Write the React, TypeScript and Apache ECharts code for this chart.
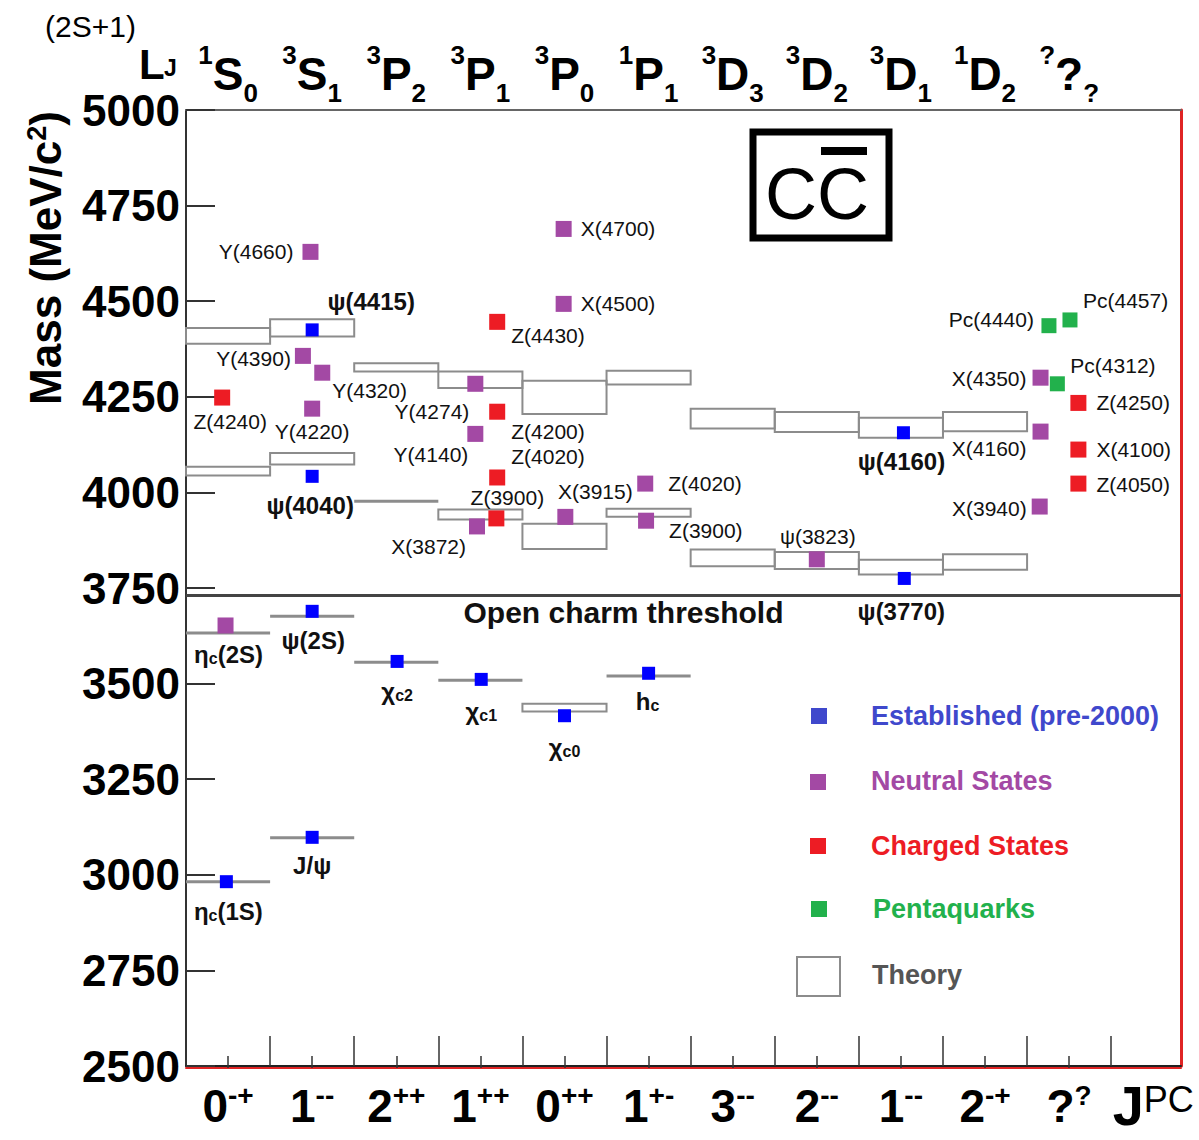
import React, { useEffect, useRef } from "react";
import * as echarts from "echarts";

// ---------- category / tick labels ----------
const spectroscopicSup = ["1", "3", "3", "3", "3", "1", "3", "3", "3", "1", "?"];
const spectroscopicL = ["S", "S", "P", "P", "P", "P", "D", "D", "D", "D", "?"];
const spectroscopicSub = ["0", "1", "2", "1", "0", "1", "3", "2", "1", "2", "?"];
const jpcJ = ["0", "1", "2", "1", "0", "1", "3", "2", "1", "2", "?"];
const jpcPC = ["-+", "--", "++", "++", "++", "+-", "--", "--", "--", "-+", "?"];
const categoryIndex = [0, 1, 2, 3, 4, 5, 6, 7, 8, 9, 10];
const categoryBoundaries = [0.5, 1.5, 2.5, 3.5, 4.5, 5.5, 6.5, 7.5, 8.5, 9.5, 10.5];
const massMin = 2500;
const massMax = 5000;
const massStep = 250;
const openCharmThreshold = 3730;

// ---------- theory predictions (boxes) ----------
const theoryCategory = [0, 0, 0, 0, 1, 1, 1, 1, 2, 2, 2, 3, 3, 3, 4, 4, 4, 5, 5, 5, 6, 6, 7, 7, 8, 8, 9, 9];
const theoryLow = [4389, 4044, 3631, 2981, 4408, 4073, 3675, 3096, 4316, 3973, 3555, 4273, 3929, 3508, 4205, 3852, 3427, 4282, 3936, 3519, 4167, 3807, 4158, 3800, 4143, 3785, 4160, 3798];
const theoryHigh = [4430, 4067, 3633, 2983, 4453, 4103, 3677, 3098, 4338, 3981, 3557, 4316, 3955, 3510, 4292, 3918, 3447, 4318, 3957, 3521, 4219, 3851, 4210, 3844, 4195, 3824, 4210, 3838];

// ---------- established states ----------
const establishedNames = ["η{s|c}(1S)", "J/ψ", "ψ(2S)", "χ{s|c2}", "χ{s|c1}", "χ{s|c0}", "h{s|c}", "ψ(3770)", "ψ(4040)", "ψ(4160)", "ψ(4415)"];
const establishedX = [-0.02, 1.0, 1.0, 2.01, 3.01, 4.0, 5.0, 8.04, 1.0, 8.03, 1.0];
const establishedMass = [2982, 3098, 3689, 3558, 3511, 3416, 3527, 3775, 4042, 4156, 4425];

// ---------- neutral states ----------
const neutralNames = ["η{s|c}(2S)", "Y(4660)", "Y(4390)", "Y(4320)", "Y(4220)", "Y(4274)", "Y(4140)", "X(3872)", "X(4700)", "X(4500)", "X(3915)", "Z(4020)", "Z(3900)", "ψ(3823)", "X(4350)", "X(4160)", "X(3940)"];
const neutralX = [-0.03, 0.98, 0.89, 1.12, 1.0, 2.94, 2.94, 2.96, 3.99, 3.99, 4.01, 4.96, 4.97, 7.0, 9.66, 9.66, 9.65];
const neutralMass = [3652, 4629, 4357, 4313, 4219, 4284, 4153, 3911, 4689, 4493, 3936, 4023, 3926, 3825, 4300, 4159, 3963];

// ---------- charged states ----------
const chargedNames = ["Z(4240)", "Z(4430)", "Z(4200)", "Z(4020)", "Z(3900)", "Z(4250)", "X(4100)", "Z(4050)"];
const chargedX = [-0.07, 3.2, 3.2, 3.2, 3.19, 10.11, 10.11, 10.11];
const chargedMass = [4248, 4446, 4211, 4039, 3932, 4234, 4112, 4023];

// ---------- pentaquarks ----------
const pentaNames = ["Pc(4440)", "Pc(4457)", "Pc(4312)"];
const pentaX = [9.76, 10.01, 9.86];
const pentaMass = [4436, 4451, 4284];

// label placement (align, dx, dy) – styling only
const establishedPlace: [string, number, number][] = [
  ["center", 2, 30], ["center", 0, 28], ["center", 1, 29], ["center", 0, 30], ["center", 0, 32], ["center", 0, 32],
  ["center", -1, 28], ["center", -3, 33], ["center", -2, 29], ["center", -2, 29], ["center", 59, -28],
];
const neutralPlace: [string, number, number][] = [
  ["center", 3, 29], ["right", -17, 0], ["right", -12, 3], ["left", 10, 18], ["center", 0, 23], ["right", -6, 28],
  ["right", -7, 21], ["right", -11, 20], ["left", 17, 0], ["left", 17, 0], ["center", 30, -25], ["left", 23, 0],
  ["left", 23, 10], ["center", 1, -23], ["right", -14, 1], ["right", -14, 17], ["right", -13, 2],
];
const chargedPlace: [string, number, number][] = [
  ["center", 8, 24], ["left", 14, 14], ["left", 14, 20], ["left", 14, -21], ["center", 11, -21],
  ["left", 18, 0], ["left", 18, 0], ["left", 18, 1],
];
const pentaPlace: [string, number, number][] = [["right", -15, -6], ["left", 13, -19], ["left", 13, -18]];

const FONT = "'Liberation Sans', Arial, Helvetica, sans-serif";
const NARROW = "'Liberation Sans Narrow', 'Liberation Sans', Arial, sans-serif";

function points(names: string[], xs: number[], ms: number[], place: [string, number, number][], boldAll: boolean, boldIdx: number[] = []) {
  return names.map((n, i) => {
    const bold = boldAll || boldIdx.indexOf(i) >= 0;
    return {
      value: [xs[i], ms[i]],
      name: n,
      label: {
        show: true,
        position: "inside",
        align: place[i][0],
        verticalAlign: "middle",
        offset: [place[i][1], place[i][2]],
        formatter: n,
        fontFamily: FONT,
        fontSize: bold ? 24 : 21,
        fontWeight: bold ? "bold" : "normal",
        color: "#111",
        rich: {
          s: { fontSize: bold ? 16 : 14, fontWeight: "bold", fontFamily: FONT, color: "#111", verticalAlign: "bottom" },
        },
      },
    };
  });
}

export default function App() {
  const ref = useRef<HTMLDivElement>(null);
  useEffect(() => {
    document.body.style.margin = "0";
    if (!ref.current) return;
    const chart = echarts.init(ref.current, undefined, { renderer: "svg" });
    const xMin = -0.5;
    const xMax = 11.33;

    const theoryData = theoryCategory.map((c, i) => [c, theoryLow[i], theoryHigh[i]]);

    const option: any = {
      animation: false,
      backgroundColor: "#fff",
      grid: { left: 186, right: 18, top: 110, bottom: 74, containLabel: false },
      xAxis: [
        {
          type: "value",
          position: "bottom",
          min: xMin,
          max: xMax,
          splitLine: { show: false },
          axisLine: { show: true, onZero: false, lineStyle: { color: "#222", width: 2 } },
          axisTick: { show: true, inside: true, length: 30, customValues: categoryBoundaries, lineStyle: { color: "#333", width: 1.5 } },
          axisLabel: {
            show: true,
            margin: 15,
            customValues: [...categoryIndex, 11],
            formatter: (v: number) => {
              const i = Math.round(v);
              if (i === 11) return "{J|J}{PC|PC}";
              return `{m|${jpcJ[i]}}{p|${jpcPC[i]}}`;
            },
            rich: {
              m: { fontFamily: NARROW, fontWeight: "bold", fontSize: 46, lineHeight: 50, color: "#000", verticalAlign: "middle" },
              p: { fontFamily: NARROW, fontWeight: "bold", fontSize: 28, lineHeight: 28, color: "#000", verticalAlign: "top" },
              J: { fontFamily: FONT, fontWeight: "bold", fontSize: 56, lineHeight: 52, color: "#000", verticalAlign: "bottom" },
              PC: { fontFamily: FONT, fontWeight: "normal", fontSize: 36, lineHeight: 36, color: "#000", verticalAlign: "top" },
            },
          },
        },
        {
          type: "value",
          position: "bottom",
          offset: 2,
          min: xMin,
          max: xMax,
          splitLine: { show: false },
          axisLine: { show: true, onZero: false, lineStyle: { color: "#e02424", width: 2 } },
          axisTick: { show: true, inside: true, length: 12, customValues: categoryIndex, lineStyle: { color: "#333", width: 1.5 } },
          axisLabel: { show: false },
        },
        {
          type: "value",
          position: "top",
          min: xMin,
          max: xMax,
          splitLine: { show: false },
          axisLine: { show: true, onZero: false, lineStyle: { color: "#666", width: 2 } },
          axisTick: { show: false },
          axisLabel: {
            show: true,
            margin: 4,
            customValues: categoryIndex,
            formatter: (v: number) => {
              const i = Math.round(v);
              return `{p|${spectroscopicSup[i]}}{m|${spectroscopicL[i]}}{q|${spectroscopicSub[i]}}`;
            },
            rich: {
              m: { fontFamily: NARROW, fontWeight: "bold", fontSize: 46, lineHeight: 50, color: "#000", verticalAlign: "middle" },
              p: { fontFamily: NARROW, fontWeight: "bold", fontSize: 26, lineHeight: 26, color: "#000", verticalAlign: "top" },
              q: { fontFamily: NARROW, fontWeight: "bold", fontSize: 26, lineHeight: 64, color: "#000", verticalAlign: "bottom" },
            },
          },
        },
      ],
      yAxis: [
        {
          type: "value",
          min: massMin,
          max: massMax,
          interval: massStep,
          splitLine: { show: false },
          axisLine: { show: true, onZero: false, lineStyle: { color: "#333", width: 2 } },
          axisTick: { show: true, inside: true, length: 29, lineStyle: { color: "#333", width: 2 } },
          axisLabel: { margin: 6, fontFamily: FONT, fontWeight: "bold", fontSize: 44, color: "#000", formatter: (v: number) => String(v) },
        },
        {
          type: "value",
          position: "right",
          min: massMin,
          max: massMax,
          splitLine: { show: false },
          axisLine: { show: true, onZero: false, lineStyle: { color: "#e02424", width: 3 } },
          axisTick: { show: false },
          axisLabel: { show: false },
        },
      ],
      series: [
        {
          type: "custom",
          name: "Theory",
          xAxisIndex: 0,
          yAxisIndex: 0,
          z: 1,
          data: theoryData,
          encode: { x: 0, y: [1, 2] },
          renderItem: (params: any, api: any) => {
            const c = api.value(0);
            const lo = api.value(1);
            const hi = api.value(2);
            const p1 = api.coord([c - 0.5, hi]);
            const p2 = api.coord([c + 0.5, lo]);
            const h = p2[1] - p1[1];
            if (h < 5) {
              const ym = (p1[1] + p2[1]) / 2;
              return { type: "line", shape: { x1: p1[0], y1: ym, x2: p2[0], y2: ym }, style: { stroke: "#8c8c8c", lineWidth: 3 } };
            }
            return {
              type: "rect",
              shape: { x: p1[0], y: p1[1], width: p2[0] - p1[0], height: h },
              style: { fill: "rgba(255,255,255,0)", stroke: "#8c8c8c", lineWidth: 2 },
            };
          },
          markLine: {
            silent: true,
            symbol: "none",
            lineStyle: { color: "#444", width: 3, type: "solid" },
            label: {
              show: true,
              position: "insideMiddleBottom",
              distance: 2,
              formatter: "Open charm threshold",
              fontFamily: FONT,
              fontWeight: "bold",
              fontSize: 30,
              color: "#111",
              padding: [0, 120, 0, 0],
            },
            data: [{ yAxis: openCharmThreshold }],
          },
        },
        {
          type: "scatter",
          name: "Established (pre-2000)",
          symbol: "rect",
          symbolSize: 13,
          z: 4,
          itemStyle: { color: "#0000ff", opacity: 1 },
          data: points(establishedNames, establishedX, establishedMass, establishedPlace, true),
        },
        {
          type: "scatter",
          name: "Neutral States",
          symbol: "rect",
          symbolSize: 16,
          z: 3,
          itemStyle: { color: "#a349a4", opacity: 1 },
          data: points(neutralNames, neutralX, neutralMass, neutralPlace, false, [0]),
        },
        {
          type: "scatter",
          name: "Charged States",
          symbol: "rect",
          symbolSize: 16,
          z: 3,
          itemStyle: { color: "#ed1c24", opacity: 1 },
          data: points(chargedNames, chargedX, chargedMass, chargedPlace, false),
        },
        {
          type: "scatter",
          name: "Pentaquarks",
          symbol: "rect",
          symbolSize: 15,
          z: 3,
          itemStyle: { color: "#22b14c", opacity: 1 },
          data: points(pentaNames, pentaX, pentaMass, pentaPlace, false),
        },
      ],
      graphic: [
        // header (2S+1)L_J
        { type: "text", x: 45, y: 26, style: { text: "(2S+1)", fontFamily: FONT, fontSize: 30, fontWeight: "normal", fill: "#000", textAlign: "left", textVerticalAlign: "middle" } },
        { type: "text", x: 139, y: 64, style: { text: "L", fontFamily: FONT, fontSize: 42, fontWeight: "bold", fill: "#000", textAlign: "left", textVerticalAlign: "middle" } },
        { type: "text", x: 164, y: 68, style: { text: "J", fontFamily: FONT, fontSize: 23, fontWeight: "bold", fill: "#000", textAlign: "left", textVerticalAlign: "middle" } },
        // y axis title
        {
          type: "text",
          x: 45,
          y: 258,
          rotation: Math.PI / 2,
          style: {
            text: "{m|Mass (MeV/c}{s|2}{m|)}",
            textAlign: "center",
            textVerticalAlign: "middle",
            rich: {
              m: { fontFamily: FONT, fontWeight: "bold", fontSize: 44, fill: "#000", color: "#000", verticalAlign: "middle" },
              s: { fontFamily: FONT, fontWeight: "bold", fontSize: 27, fill: "#000", color: "#000", verticalAlign: "top" },
            },
          },
        },
        // cc-bar logo
        { type: "rect", shape: { x: 753, y: 132, width: 136, height: 106 }, style: { fill: "#fff", stroke: "#000", lineWidth: 7 } },
        { type: "text", x: 817, y: 194, style: { text: "CC", fontFamily: FONT, fontSize: 72, fill: "#000", textAlign: "center", textVerticalAlign: "middle" } },
        { type: "rect", shape: { x: 821, y: 147, width: 46, height: 8 }, style: { fill: "#000" } },
        // legend
        { type: "rect", shape: { x: 811, y: 708, width: 16, height: 16 }, style: { fill: "#3f48cc" } },
        { type: "text", x: 871, y: 716, style: { text: "Established (pre-2000)", fontFamily: FONT, fontSize: 27, fontWeight: "bold", fill: "#3f48cc", textAlign: "left", textVerticalAlign: "middle" } },
        { type: "rect", shape: { x: 810, y: 774, width: 16, height: 16 }, style: { fill: "#a349a4" } },
        { type: "text", x: 871, y: 781, style: { text: "Neutral States", fontFamily: FONT, fontSize: 27, fontWeight: "bold", fill: "#a349a4", textAlign: "left", textVerticalAlign: "middle" } },
        { type: "rect", shape: { x: 810, y: 838, width: 16, height: 16 }, style: { fill: "#ed1c24" } },
        { type: "text", x: 871, y: 846, style: { text: "Charged States", fontFamily: FONT, fontSize: 27, fontWeight: "bold", fill: "#ed1c24", textAlign: "left", textVerticalAlign: "middle" } },
        { type: "rect", shape: { x: 811, y: 901, width: 16, height: 16 }, style: { fill: "#22b14c" } },
        { type: "text", x: 873, y: 909, style: { text: "Pentaquarks", fontFamily: FONT, fontSize: 27, fontWeight: "bold", fill: "#22b14c", textAlign: "left", textVerticalAlign: "middle" } },
        { type: "rect", shape: { x: 797, y: 957, width: 43, height: 39 }, style: { fill: "#fff", stroke: "#8c8c8c", lineWidth: 2 } },
        { type: "text", x: 872, y: 975, style: { text: "Theory", fontFamily: FONT, fontSize: 27, fontWeight: "bold", fill: "#555", textAlign: "left", textVerticalAlign: "middle" } },
      ],
    };
    chart.setOption(option);
    return () => chart.dispose();
  }, []);
  return <div ref={ref} style={{ width: 1199, height: 1140 }} />;
}
